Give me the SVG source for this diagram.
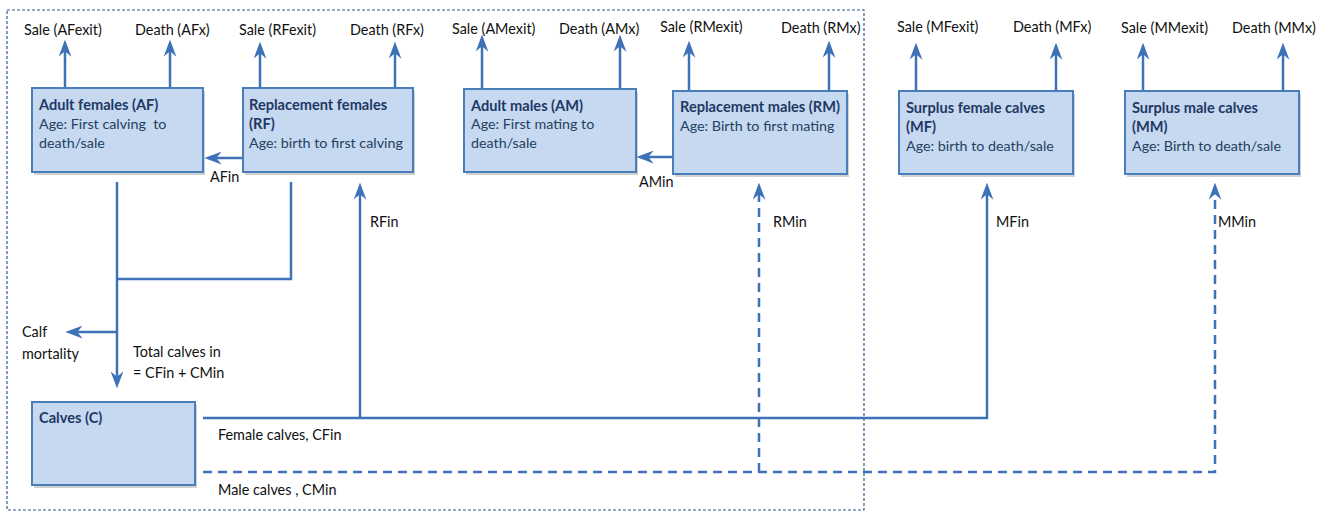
<svg xmlns="http://www.w3.org/2000/svg" width="1328" height="511" viewBox="0 0 1328 511">
<defs>
<style>
.box{fill:#c6d9f1;stroke:#4a7ebb;stroke-width:2}
.sh{fill:#000;opacity:0.18}
.t{font-family:Lato,"Liberation Sans",sans-serif;font-size:14.6px;fill:#1f3864;font-weight:bold}
.b{font-family:Lato,"Liberation Sans",sans-serif;font-size:14.3px;fill:#243f60}
.l{font-family:Lato,"Liberation Sans",sans-serif;font-size:14.4px;fill:#111}
.c{fill:none;stroke:#3d72b8;stroke-width:2.5}
.d{fill:none;stroke:#3d72b8;stroke-width:2.5;stroke-dasharray:9 6}
.ah{marker-end:url(#arr)}
</style>
<marker id="arr" viewBox="0 0 16 12" refX="10" refY="6" markerWidth="17" markerHeight="13" markerUnits="userSpaceOnUse" orient="auto">
<path d="M0,0 L16,6 L0,12 L5,6 z" fill="#3d72b8"/>
</marker>
</defs>
<rect x="7" y="10" width="857" height="500" fill="none" stroke="#2e5a93" stroke-width="1.2" stroke-dasharray="3 2"/>

<g id="connectors">
<line class="c ah" x1="65" y1="88" x2="65" y2="46"/>
<line class="c ah" x1="170" y1="88" x2="170" y2="46"/>
<line class="c ah" x1="260" y1="88" x2="260" y2="48"/>
<line class="c ah" x1="395" y1="88" x2="395" y2="48"/>
<line class="c ah" x1="482" y1="88" x2="482" y2="41"/>
<line class="c ah" x1="620" y1="88" x2="620" y2="41"/>
<line class="c ah" x1="689" y1="90" x2="689" y2="47"/>
<line class="c ah" x1="829" y1="90" x2="829" y2="47"/>
<line class="c ah" x1="916" y1="90" x2="916" y2="49"/>
<line class="c ah" x1="1056" y1="90" x2="1056" y2="49"/>
<line class="c ah" x1="1143" y1="90" x2="1143" y2="49"/>
<line class="c ah" x1="1283" y1="90" x2="1283" y2="49"/>
<line class="c ah" x1="243" y1="158" x2="211" y2="158"/>
<line class="c ah" x1="673" y1="157" x2="643" y2="157"/>
<polyline class="c" points="291,182 291,279 117,279"/>
<line class="c ah" x1="117" y1="182" x2="117" y2="382"/>
<line class="c ah" x1="117" y1="332" x2="72" y2="332"/>
<polyline class="c ah" points="203,418 987,418 987,189"/>
<line class="c ah" x1="360" y1="418" x2="360" y2="189"/>
<polyline class="d ah" points="203,472 1215,472 1215,189"/>
<line class="d ah" x1="759" y1="472" x2="759" y2="189"/>
</g>

<g id="labels">
<text class="l" x="24" y="35">Sale (AFexit)</text>
<text class="l" x="135" y="35">Death (AFx)</text>
<text class="l" x="239" y="35">Sale (RFexit)</text>
<text class="l" x="350" y="35">Death (RFx)</text>
<text class="l" x="452" y="34">Sale (AMexit)</text>
<text class="l" x="559" y="34">Death (AMx)</text>
<text class="l" x="660" y="32">Sale (RMexit)</text>
<text class="l" x="781" y="33">Death (RMx)</text>
<text class="l" x="897" y="32">Sale (MFexit)</text>
<text class="l" x="1013" y="32">Death (MFx)</text>
<text class="l" x="1121" y="33">Sale (MMexit)</text>
<text class="l" x="1232" y="33">Death (MMx)</text>
<text class="l" x="210" y="182">AFin</text>
<text class="l" x="639" y="187">AMin</text>
<text class="l" x="370" y="227">RFin</text>
<text class="l" x="773" y="227">RMin</text>
<text class="l" x="996" y="227">MFin</text>
<text class="l" x="1218" y="227">MMin</text>
<text class="l" x="22" y="337">Calf</text>
<text class="l" x="22" y="359">mortality</text>
<text class="l" x="133" y="357">Total calves in</text>
<text class="l" x="133" y="378">= CFin + CMin</text>
<text class="l" x="218" y="440">Female calves, CFin</text>
<text class="l" x="218" y="495">Male calves , CMin</text>
</g>

<g id="AF">
<rect class="sh" x="34" y="91" width="171" height="84"/>
<rect class="box" x="32" y="88" width="171" height="84"/>
<text class="t" x="39" y="110">Adult females (AF)</text>
<text class="b" x="39" y="129" style="white-space:pre">Age: First calving  to</text>
<text class="b" x="39" y="148">death/sale</text>
</g>
<g id="RF">
<rect class="sh" x="245" y="91" width="170" height="84"/>
<rect class="box" x="243" y="88" width="170" height="84"/>
<text class="t" x="249" y="110">Replacement females</text>
<text class="t" x="249" y="129">(RF)</text>
<text class="b" x="249" y="148">Age: birth to first calving</text>
</g>
<g id="AM">
<rect class="sh" x="466" y="92" width="172" height="83"/>
<rect class="box" x="464" y="89" width="172" height="83"/>
<text class="t" x="471" y="111">Adult males (AM)</text>
<text class="b" x="471" y="129">Age: First mating to</text>
<text class="b" x="471" y="148">death/sale</text>
</g>
<g id="RM">
<rect class="sh" x="675" y="94" width="174" height="83"/>
<rect class="box" x="673" y="91" width="174" height="83"/>
<text class="t" x="680" y="112">Replacement males (RM)</text>
<text class="b" x="680" y="131">Age: Birth to first mating</text>
</g>
<g id="MF">
<rect class="sh" x="901" y="94" width="174" height="83"/>
<rect class="box" x="899" y="91" width="174" height="83"/>
<text class="t" x="906" y="113">Surplus female calves</text>
<text class="t" x="906" y="132">(MF)</text>
<text class="b" x="906" y="151">Age: birth to death/sale</text>
</g>
<g id="MM">
<rect class="sh" x="1127" y="94" width="174" height="83"/>
<rect class="box" x="1125" y="91" width="174" height="83"/>
<text class="t" x="1132" y="113">Surplus male calves</text>
<text class="t" x="1132" y="132">(MM)</text>
<text class="b" x="1132" y="151">Age: Birth to death/sale</text>
</g>
<g id="C">
<rect class="sh" x="34" y="405" width="163" height="83"/>
<rect class="box" x="32" y="402" width="163" height="83"/>
<text class="t" x="39" y="423">Calves (C)</text>
</g>
</svg>
